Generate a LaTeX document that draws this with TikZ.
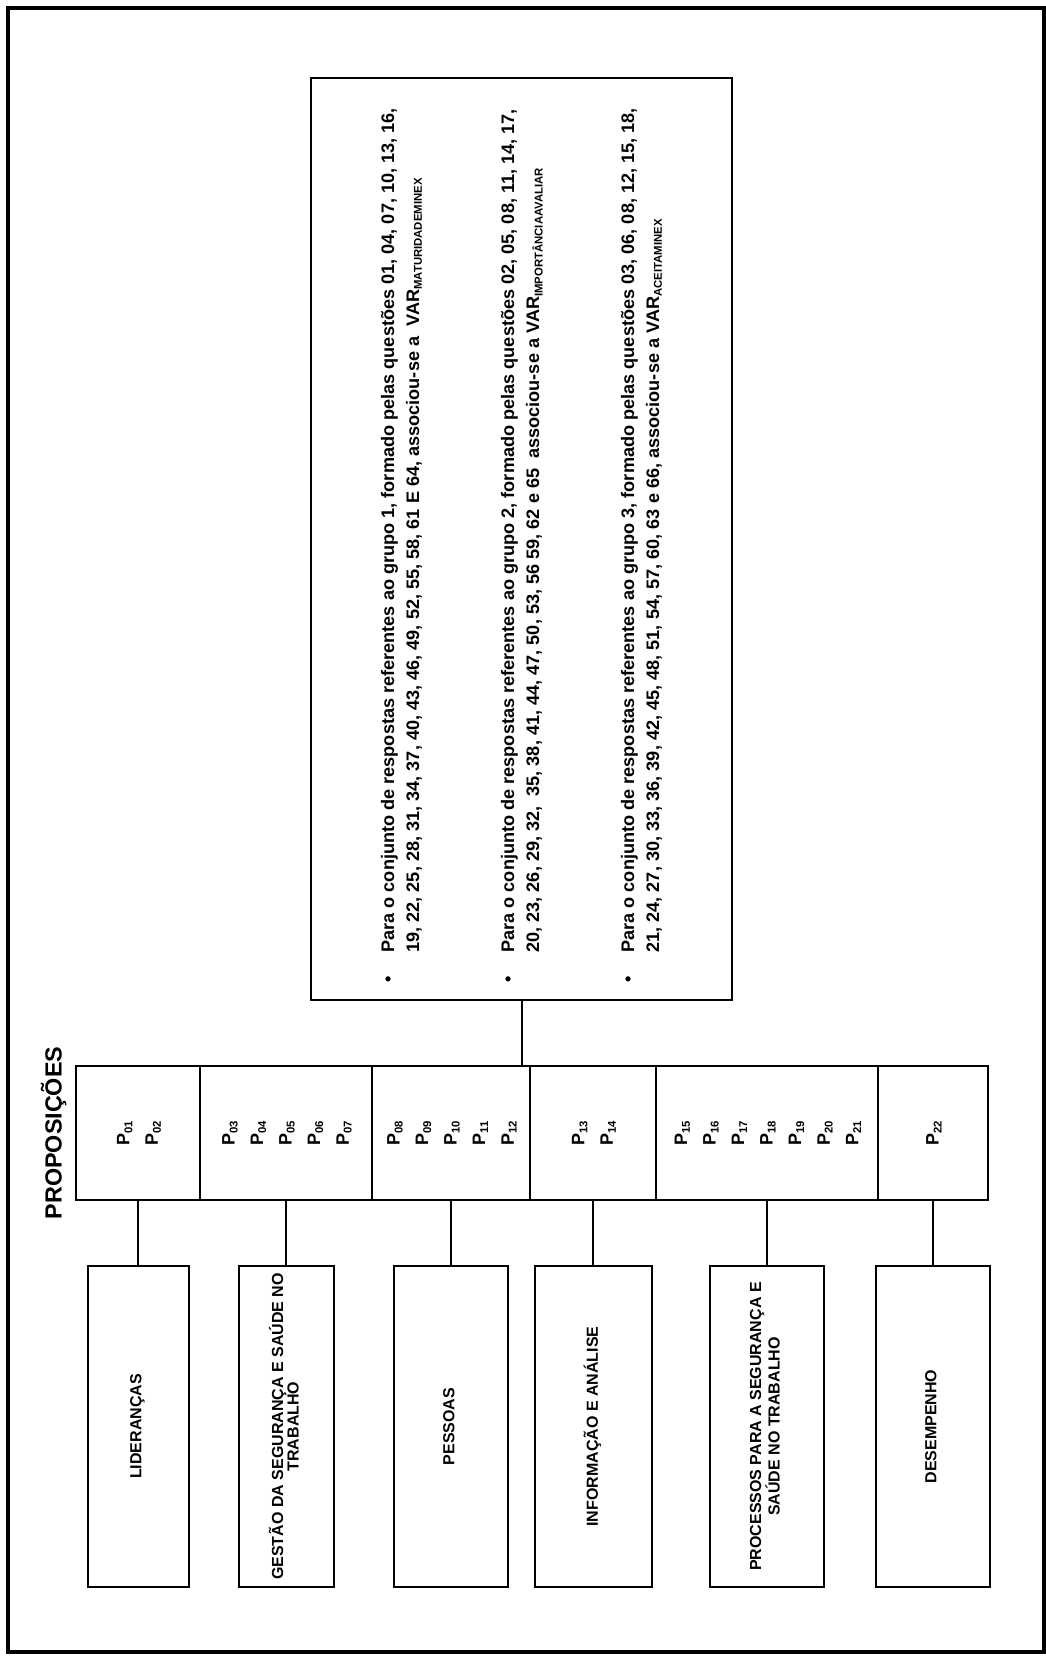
\documentclass[tikz,border=0pt]{standalone}
\usepackage{fontspec}
\setmainfont{Liberation Sans}
\usepackage{graphicx}
\usetikzlibrary{positioning}

\newcommand{\vtext}[1]{\rotatebox{90}{\begin{tabular}{@{}c@{}}#1\end{tabular}}}
\newcommand{\varind}[1]{VAR\textsubscript{\fontsize{8.5}{9}\selectfont #1}}
\newcommand{\pn}[1]{P\textsubscript{\fontsize{8.5}{9}\selectfont #1}}

\begin{document}
\begin{tikzpicture}[
  x=0.75pt, y=-0.75pt,
  frame/.style={draw, line width=2.4pt},
  bigbox/.style={rectangle, draw, line width=1.5pt, minimum width=315.75pt, minimum height=691.5pt, inner sep=0pt, font=\fontsize{13.6}{18.75}\selectfont\bfseries},
  cell/.style={rectangle, draw, line width=1.5pt, outer sep=0pt, minimum height=100.5pt, inner sep=0pt, font=\fontsize{13.5}{21.4}\selectfont\bfseries},
  catbox/.style={rectangle, draw, line width=1.5pt, minimum height=240.75pt, inner sep=0pt, font=\fontsize{12}{11.25}\selectfont\bfseries},
  link/.style={draw, line width=1.5pt}
]
\useasboundingbox (0,0) rectangle (1046,1657);
\draw[frame] (8,8) rectangle (1044,1652);

% text box with the three groups
\node[bigbox] (grupos) at (521.5,539) {\rotatebox{90}{\begin{tabular}{@{}l@{\hspace{18pt}}l@{\hspace{9.75pt}}}
\textbullet & Para o conjunto de respostas referentes ao grupo 1, formado pelas questões 01, 04, 07, 10, 13, 16,\\
 & 19, 22, 25, 28, 31, 34, 37, 40, 43, 46, 49, 52, 55, 58, 61 E 64, associou-se a \ \varind{MATURIDADEMINEX}\\[52.5pt]
\textbullet & Para o conjunto de respostas referentes ao grupo 2, formado pelas questões 02, 05, 08, 11, 14, 17,\\
 & 20, 23, 26, 29, 32,\ \ 35, 38, 41, 44, 47, 50, 53, 56 59, 62 e 65\ \ associou-se a \varind{IMPORTÂNCIAAVALIAR}\\[52.5pt]
\textbullet & Para o conjunto de respostas referentes ao grupo 3, formado pelas questões 03, 06, 08, 12, 15, 18,\\
 & 21, 24, 27, 30, 33, 36, 39, 42, 45, 48, 51, 54, 57, 60, 63 e 66, associou-se a \varind{ACEITAMINEX}
\end{tabular}}};

% row of propositions
\node[cell, minimum width=93pt] (prop1) at (138,1133) {\vtext{\pn{01}\\\pn{02}}};
\node[cell, minimum width=129pt, right=0pt of prop1] (prop2) {\vtext{\pn{03}\\\pn{04}\\\pn{05}\\\pn{06}\\\pn{07}}};
\node[cell, minimum width=118.5pt, right=0pt of prop2] (prop3) {\vtext{\pn{08}\\\pn{09}\\\pn{10}\\\pn{11}\\\pn{12}}};
\node[cell, minimum width=94.5pt, right=0pt of prop3] (prop4) {\vtext{\pn{13}\\\pn{14}}};
\node[cell, minimum width=166.5pt, right=0pt of prop4] (prop5) {\vtext{\pn{15}\\\pn{16}\\\pn{17}\\\pn{18}\\\pn{19}\\\pn{20}\\\pn{21}}};
\node[cell, minimum width=82.5pt, right=0pt of prop5] (prop6) {\vtext{\pn{22}}};
\node[inner sep=0pt, font=\fontsize{17.5}{20}\selectfont\bfseries, left=7pt of prop1] (titulo) {\rotatebox{90}{PROPOSIÇÕES}};

% criteria
\node[catbox, minimum width=75.75pt, below=48.75pt of prop1] (lider) {\vtext{LIDERANÇAS}};
\node[catbox, minimum width=71.25pt, below=48.75pt of prop2] (gestao) {\vtext{GESTÃO DA SEGURANÇA E SAÚDE NO\\TRABALHO}};
\node[catbox, minimum width=85.5pt, below=48.75pt of prop3] (pessoas) {\vtext{PESSOAS}};
\node[catbox, minimum width=87.75pt, below=48.75pt of prop4] (info) {\vtext{INFORMAÇÃO E ANÁLISE}};
\node[catbox, minimum width=85.5pt, below=48.75pt of prop5] (processos) {\vtext{PROCESSOS PARA A SEGURANÇA E\\SAÚDE NO TRABALHO}};
\node[catbox, minimum width=85.5pt, below=48.75pt of prop6] (desemp) {\vtext{DESEMPENHO}};

\draw[link] (grupos.south) -- (grupos.south |- prop3.north);
\foreach \p/\c in {prop1/lider, prop2/gestao, prop3/pessoas, prop4/info, prop5/processos, prop6/desemp}
  \draw[link] (\p) -- (\c);
\end{tikzpicture}
\end{document}
